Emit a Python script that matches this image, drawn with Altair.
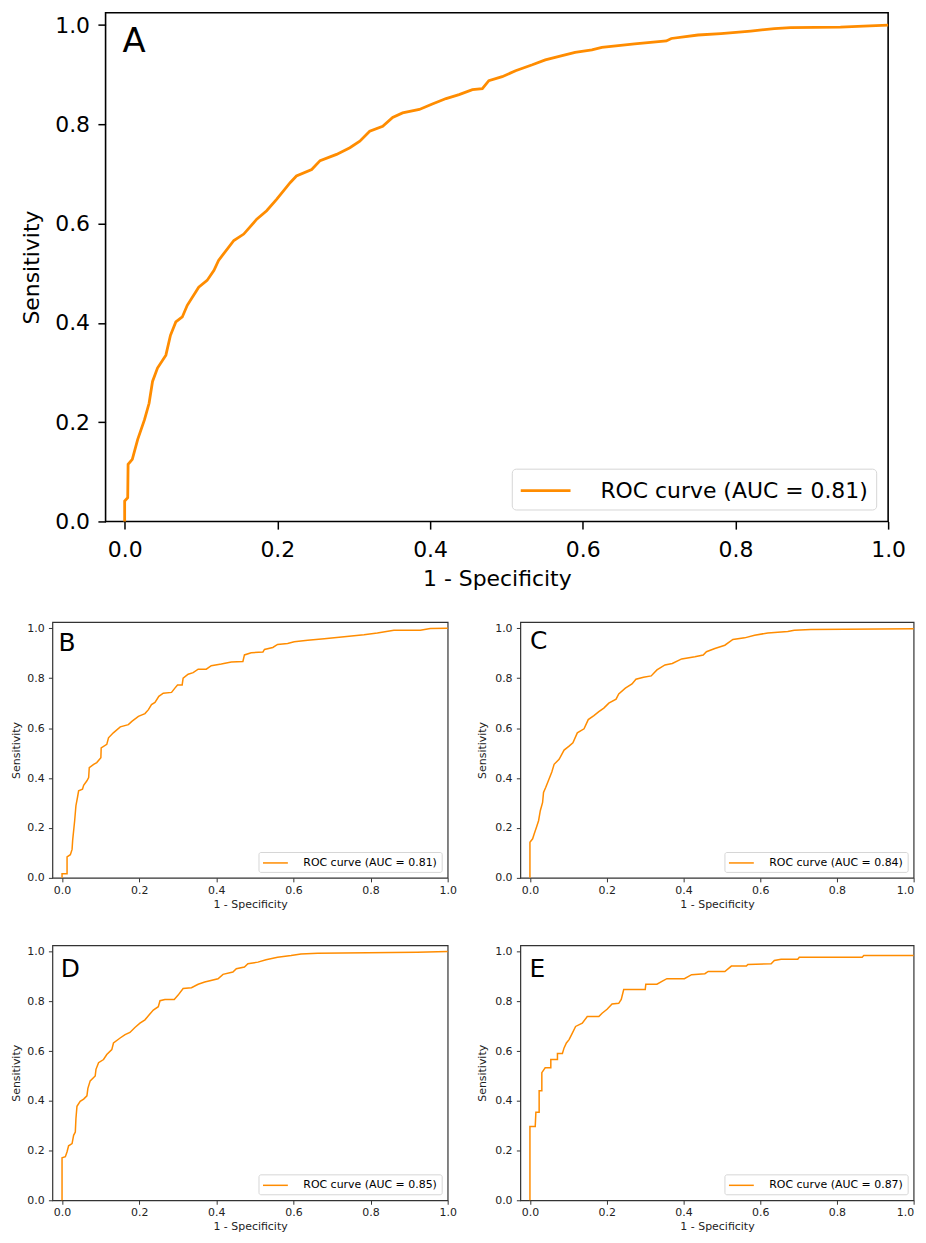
import altair as alt
import pandas as pd

FONT = "DejaVu Sans"
ORANGE = "#ff8c00"

# ---------------- data ----------------
a_fpr = [0, 0, 0.004, 0.0045, 0.010, 0.017, 0.026, 0.032, 0.0365, 0.043, 0.054, 0.060, 0.067,
         0.0755, 0.082, 0.097, 0.108, 0.117, 0.123, 0.143, 0.156, 0.173, 0.186, 0.199, 0.217,
         0.225, 0.245, 0.256, 0.2775, 0.295, 0.308, 0.321, 0.338, 0.351, 0.364, 0.386, 0.403,
         0.421, 0.438, 0.4555, 0.4685, 0.477, 0.4945, 0.512, 0.534, 0.551, 0.573, 0.590, 0.612,
         0.625, 0.668, 0.7095, 0.716, 0.751, 0.781, 0.820, 0.851, 0.872, 0.9375, 0.968, 1.0]
a_tpr = [0, 0.041, 0.048, 0.115, 0.125, 0.165, 0.205, 0.238, 0.282, 0.309, 0.335, 0.375, 0.402,
         0.412, 0.4355, 0.472, 0.4856, 0.506, 0.526, 0.566, 0.579, 0.609, 0.626, 0.649, 0.683,
         0.696, 0.709, 0.727, 0.7395, 0.753, 0.766, 0.786, 0.796, 0.814, 0.823, 0.830, 0.841,
         0.852, 0.860, 0.870, 0.872, 0.888, 0.896, 0.908, 0.920, 0.930, 0.9385, 0.945, 0.950,
         0.955, 0.962, 0.968, 0.973, 0.980, 0.983, 0.988, 0.993, 0.995, 0.996, 0.998, 1.0]

b_fpr = [0, 0, 0.013, 0.013, 0.0215, 0.026, 0.0275, 0.0327, 0.036, 0.040, 0.043, 0.053, 0.056,
         0.0645, 0.069, 0.0706, 0.082, 0.090, 0.1007, 0.1015, 0.116, 0.1205, 0.133, 0.151, 0.172,
         0.181, 0.198, 0.215, 0.224, 0.232, 0.241, 0.251, 0.2625, 0.284, 0.2926, 0.2995, 0.3115,
         0.314, 0.327, 0.340, 0.353, 0.374, 0.387, 0.413, 0.439, 0.469, 0.473, 0.4905, 0.521,
         0.525, 0.5465, 0.559, 0.585, 0.602, 0.637, 0.680, 0.7315, 0.783, 0.8176, 0.8606, 0.929,
         0.955, 1.0]
b_tpr = [0, 0.017, 0.017, 0.084, 0.093, 0.114, 0.150, 0.229, 0.289, 0.322, 0.349, 0.355, 0.371,
         0.389, 0.402, 0.442, 0.455, 0.462, 0.481, 0.521, 0.535, 0.561, 0.581, 0.605, 0.614,
         0.627, 0.647, 0.658, 0.674, 0.694, 0.703, 0.727, 0.740, 0.743, 0.760, 0.773, 0.773,
         0.800, 0.816, 0.822, 0.836, 0.836, 0.850, 0.857, 0.865, 0.867, 0.893, 0.902, 0.905,
         0.915, 0.923, 0.935, 0.939, 0.946, 0.952, 0.958, 0.966, 0.974, 0.981, 0.992, 0.992,
         0.999, 1.0]

c_fpr = [0, 0, 0.007, 0.011, 0.017, 0.0225, 0.027, 0.033, 0.0354, 0.041, 0.048, 0.057, 0.063,
         0.076, 0.089, 0.102, 0.112, 0.1235, 0.141, 0.152, 0.1667, 0.1796, 0.1926, 0.2055,
         0.2245, 0.2314, 0.2487, 0.266, 0.2763, 0.296, 0.316, 0.331, 0.352, 0.371, 0.3955,
         0.430, 0.4516, 0.460, 0.482, 0.508, 0.529, 0.5596, 0.5855, 0.620, 0.672, 0.689, 0.732,
         1.0]
c_tpr = [0, 0.143, 0.1565, 0.176, 0.203, 0.229, 0.269, 0.302, 0.342, 0.362, 0.389, 0.424, 0.455,
         0.475, 0.512, 0.528, 0.541, 0.581, 0.597, 0.634, 0.650, 0.666, 0.680, 0.700, 0.716,
         0.737, 0.760, 0.777, 0.796, 0.804, 0.809, 0.833, 0.853, 0.859, 0.877, 0.886, 0.893,
         0.906, 0.919, 0.932, 0.955, 0.9615, 0.972, 0.981, 0.987, 0.992, 0.995, 0.998]

d_fpr = [0, 0, 0.0086, 0.013, 0.017, 0.026, 0.030, 0.0344, 0.036, 0.0387, 0.047, 0.056, 0.0645,
         0.067, 0.073, 0.086, 0.088, 0.0947, 0.1076, 0.116, 0.129, 0.1334, 0.1506, 0.1635, 0.176,
         0.189, 0.202, 0.215, 0.2255, 0.2367, 0.2496, 0.254, 0.2668, 0.291, 0.301, 0.314, 0.3356,
         0.353, 0.370, 0.4045, 0.4174, 0.443, 0.452, 0.473, 0.482, 0.508, 0.529, 0.559, 0.594,
         0.6196, 0.6627, 0.921, 1.0]
d_tpr = [0, 0.171, 0.175, 0.195, 0.219, 0.228, 0.261, 0.2745, 0.328, 0.378, 0.398, 0.407, 0.420,
         0.450, 0.480, 0.500, 0.5265, 0.553, 0.566, 0.586, 0.606, 0.6326, 0.6525, 0.666, 0.675,
         0.695, 0.712, 0.7255, 0.745, 0.765, 0.7785, 0.8024, 0.8077, 0.8077, 0.825, 0.8515, 0.855,
         0.8687, 0.878, 0.891, 0.9085, 0.9178, 0.931, 0.9377, 0.951, 0.9576, 0.967, 0.9775, 0.984,
         0.9907, 0.9934, 0.9973, 1.0]

e_fpr = [0, 0, 0.0138, 0.0155, 0.024, 0.024, 0.031, 0.031, 0.0397, 0.0544, 0.0544, 0.0717, 0.0717,
         0.0846, 0.089, 0.095, 0.102, 0.1105, 0.119, 0.1364, 0.1494, 0.1796, 0.188, 0.201, 0.214,
         0.2314, 0.238, 0.2444, 0.3005, 0.302, 0.331, 0.344, 0.357, 0.4025, 0.4214, 0.456, 0.4646,
         0.508, 0.525, 0.564, 0.568, 0.6287, 0.637, 0.6546, 0.698, 0.702, 0.866, 0.870, 1.0]
e_tpr = [0, 0.297, 0.297, 0.354, 0.354, 0.440, 0.440, 0.513, 0.533, 0.533, 0.566, 0.566, 0.590,
         0.590, 0.6127, 0.6326, 0.646, 0.6724, 0.699, 0.712, 0.7387, 0.7387, 0.752, 0.768, 0.789,
         0.792, 0.8077, 0.8475, 0.8475, 0.869, 0.869, 0.8806, 0.891, 0.891, 0.907, 0.911, 0.920,
         0.920, 0.9416, 0.9416, 0.948, 0.951, 0.964, 0.9695, 0.9695, 0.9775, 0.9775, 0.984, 0.984]

letters = ["A", "B", "C", "D", "E"]
legend_labels = ["ROC curve (AUC = 0.81)", "ROC curve (AUC = 0.81)", "ROC curve (AUC = 0.84)",
                 "ROC curve (AUC = 0.85)", "ROC curve (AUC = 0.87)"]
tick_values = [0.0, 0.2, 0.4, 0.6, 0.8, 1.0]
x_title = "1 - Specificity"
y_title = "Sensitivity"


def panel(fpr, tpr, label, letter, w, h, big, lx, ly, ytp=None, flush_last=False):
    assert len(fpr) == len(tpr)
    df = pd.DataFrame({"fpr": fpr, "tpr": tpr, "order": list(range(len(fpr))),
                       "series": [label] * len(fpr)})
    if big:
        fs, tick, tickw, tcol, lcol = 22, 7.7, 1.5, "#000000", "#000000"
        xlp, xtp, ylp = 10.5, 8, 8.4
        lw, lfs = 2.8, 34
        frame_c, frame_w = "#000000", 1.6
        leg = dict(offset=12, symbolSize=625, symbolStrokeWidth=2.8, symbolOffset=12,
                   labelOffset=41, padding=8, labelFontSize=22, cornerRadius=4)
    else:
        fs, tick, tickw, tcol, lcol = 11, 4, 1, "#333333", "#222222"
        xlp, xtp, ylp = 2.5, 3, 4.3
        lw, lfs = 1.5, 25
        frame_c, frame_w = "#333333", 1.2
        leg = dict(offset=6, symbolSize=156, symbolStrokeWidth=1.5, symbolOffset=6,
                   labelOffset=21, padding=4, labelFontSize=11, cornerRadius=2)

    def axis(title, lp, tp, flush=False):
        extra = {}
        if flush:
            extra["labelAlign"] = {"condition": {"test": "datum.value == 1", "value": "right"},
                                   "value": "center"}
        return alt.Axis(values=tick_values, format=".1f", title=title, titleFont=FONT,
                        titleFontSize=fs, titleFontWeight="normal", titleColor=lcol,
                        titlePadding=tp, labelFont=FONT, labelFontSize=fs, labelColor=lcol,
                        labelPadding=lp, labelFlush=False, labelOverlap=False, tickSize=tick,
                        tickWidth=tickw, tickColor=tcol, domain=False, grid=False, **extra)

    line = alt.Chart(df).mark_line(strokeWidth=lw).encode(
        x=alt.X("fpr:Q", scale=alt.Scale(domain=[-0.025, 1.0], nice=False, zero=False),
                axis=axis(x_title, xlp, xtp, flush_last)),
        y=alt.Y("tpr:Q", scale=alt.Scale(domain=[0.0, 1.025], nice=False, zero=False),
                axis=axis(y_title, ylp, ytp)),
        order="order:Q",
        color=alt.Color("series:N", scale=alt.Scale(domain=[label], range=[ORANGE]),
                        legend=alt.Legend(orient="bottom-right", title=None,
                                          symbolType="M-2,0H2", labelFont=FONT,
                                          labelColor="#000000", strokeColor="#d6d6d6",
                                          fillColor="#ffffff", labelLimit=600, **leg)),
    )
    txt = alt.Chart(pd.DataFrame({"letter": [letter]})).mark_text(
        font=FONT, fontSize=lfs, align="left", baseline="alphabetic", color="#000000"
    ).encode(x=alt.value(lx), y=alt.value(ly), text="letter:N")
    return alt.layer(line, txt).properties(
        width=w, height=h, view=alt.ViewBackground(stroke=frame_c, strokeWidth=frame_w))


pa = panel(a_fpr, a_tpr, legend_labels[0], letters[0], 786, 511, True, 17, 39, ytp=11.2)
pb = panel(b_fpr, b_tpr, legend_labels[1], letters[1], 397, 257, False, 6, 29.3, ytp=4.8)
pc = panel(c_fpr, c_tpr, legend_labels[2], letters[2], 395, 257, False, 9.6, 27.5, ytp=6.8,
           flush_last=True)
pd_ = panel(d_fpr, d_tpr, legend_labels[3], letters[3], 397, 256, False, 8.5, 31.3, ytp=4.8)
pe = panel(e_fpr, e_tpr, legend_labels[4], letters[4], 395, 256, False, 9.2, 32, ytp=6.8,
           flush_last=True)

IND = dict(color="independent", x="independent", y="independent")
row1 = alt.hconcat(pb, pc, spacing=18).resolve_scale(**IND)
row2 = alt.hconcat(pd_, pe, spacing=18).resolve_scale(**IND)
inner = alt.vconcat(row1, row2, spacing=33.8).resolve_scale(**IND)

# invisible 1px anchor that lets the lower grid start left of panel A's plot area
anchor = alt.Chart(pd.DataFrame({"s": [0]})).mark_point(opacity=0, size=0).encode(
    x=alt.value(0), y=alt.value(0)
).properties(width=1, height=1, view=alt.ViewBackground(stroke="transparent", strokeWidth=0))
bottom = alt.concat(anchor, inner, columns=2, spacing=-97.4, align="none").resolve_scale(**IND)

chart = alt.vconcat(pa, bottom, spacing=31).resolve_scale(**IND).properties(
    padding={"left": 2, "top": 1, "right": 0, "bottom": 0}
).configure(font=FONT, background="#ffffff")

chart.save("out.html", embed_options={"renderer": "svg", "actions": False})
